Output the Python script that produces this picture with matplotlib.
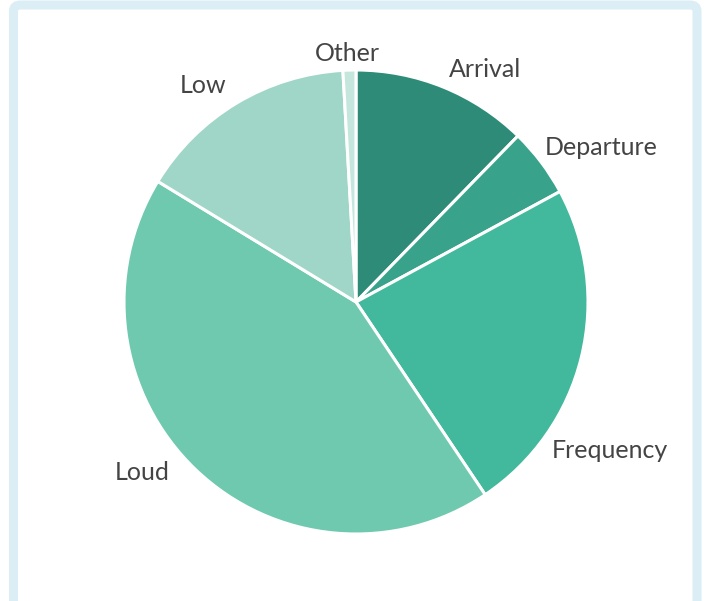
import matplotlib
matplotlib.use('Agg')
import matplotlib.pyplot as plt
from matplotlib.patches import FancyBboxPatch

# slice data (percent)
labels = ['Arrival', 'Departure', 'Frequency', 'Loud', 'Low', 'Other']
values = [12.3, 4.8, 23.5, 43.1, 15.4, 0.9]
colors = ['#2E8B77', '#38A38A', '#42B89C', '#6FC9AF', '#A0D6C7', '#C5E6DC']
# label spots (axes data units, pie radius = 1)
label_pos = [(0.40, 1.004), (0.815, 0.664), (0.845, -0.642),
             (-0.802, -0.737), (-0.560, 0.935), (-0.039, 1.073)]
label_ha = ['left', 'left', 'left', 'right', 'right', 'center']

plt.rcParams['font.family'] = ['Lato', 'DejaVu Sans']

fig = plt.figure(figsize=(7.07, 6.01), dpi=100)
fig.patch.set_facecolor('white')

# light blue frame round the chart
frame = FancyBboxPatch((13.5 / 707, -0.05), (697 - 13.5) / 707, 1.05 - 5 / 601,
                       boxstyle='round,pad=0,rounding_size=0.01',
                       transform=fig.transFigure, facecolor='none',
                       edgecolor='#DCEEF5', linewidth=6.5, zorder=0)
fig.patches.append(frame)

R = 232
cx, cy = 356, 299
ax = fig.add_axes([(cx - R) / 707, (cy - R) / 601, 2 * R / 707, 2 * R / 601])
ax.set_facecolor('none')

wedges, texts = ax.pie(values, labels=labels, colors=colors, startangle=90,
                       counterclock=False, radius=1,
                       wedgeprops=dict(edgecolor='white', linewidth=2.2),
                       textprops=dict(color='#444444', fontsize=18))
for t, (x, y), ha in zip(texts, label_pos, label_ha):
    t.set_position((x, y))
    t.set_ha(ha)
    t.set_va('center')

ax.set_xlim(-1, 1)
ax.set_ylim(-1, 1)
ax.set_aspect('equal')
ax.axis('off')

plt.savefig('out.png', dpi=100)
